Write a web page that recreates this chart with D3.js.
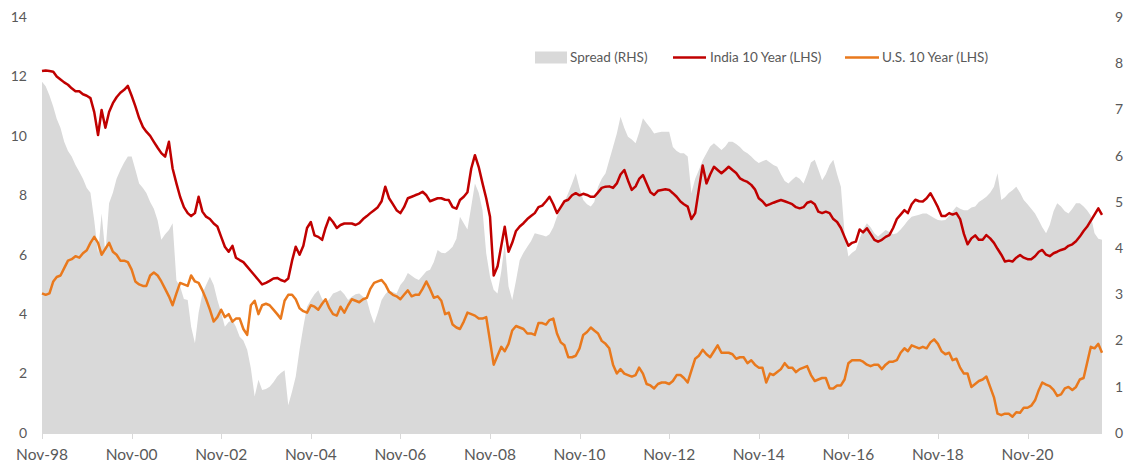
<!DOCTYPE html>
<html>
<head>
<meta charset="utf-8">
<script src="https://cdn.jsdelivr.net/npm/d3@7"></script>
<style>
  html, body { margin: 0; padding: 0; background: #ffffff; }
  svg { display: block; }
  text { font-family: Lato, "Open Sans", sans-serif; fill: #595959; }
</style>
</head>
<body>
<svg id="chart" width="1129" height="463"></svg>
<script>
// ---- Data (monthly, Nov-1998 .. Jul-2022) ----
const startMonth = "1998-11";
const india = [
  12.18, 12.2,
  12.18, 12.16, 12.0, 11.9, 11.8, 11.72, 11.6, 11.5, 11.5, 11.4, 11.35, 11.27,
  10.8, 10.03, 10.87, 10.27, 10.8, 11.1, 11.3, 11.45, 11.55, 11.68, 11.35, 11.0,
  10.6, 10.3, 10.14, 10.0, 9.8, 9.6, 9.42, 9.3, 9.8, 8.9, 8.4, 7.95,
  7.6, 7.4, 7.3, 7.4, 7.95, 7.45, 7.28, 7.2, 7.05, 6.95, 6.6, 6.27,
  6.1, 6.3, 5.9, 5.82, 5.75, 5.6, 5.45, 5.3, 5.15, 5.0, 5.05, 5.12,
  5.2, 5.22, 5.15, 5.1, 5.2, 5.8, 6.27, 6.0, 6.3, 6.9, 7.1, 6.65,
  6.6, 6.5, 6.9, 7.25, 7.1, 6.9, 7.0, 7.05, 7.05, 7.05, 7.0, 7.06,
  7.2, 7.3, 7.4, 7.5, 7.6, 7.8, 8.29, 7.9, 7.7, 7.5, 7.4, 7.6,
  7.9, 7.95, 8.0, 8.05, 8.12, 8.0, 7.8, 7.85, 7.9, 7.9, 7.85, 7.84,
  7.6, 7.55, 7.84, 7.95, 8.1, 8.9, 9.35, 8.95, 8.4, 7.9, 7.28, 5.3,
  5.6, 6.3, 6.94, 6.1, 6.4, 6.8, 6.95, 7.06, 7.2, 7.3, 7.4, 7.6,
  7.65, 7.8, 7.95, 7.7, 7.4, 7.6, 7.8, 7.85, 8.0, 8.07, 8.0, 8.05,
  8.01, 7.95, 7.95, 8.1, 8.25, 8.29, 8.3, 8.25, 8.4, 8.7, 8.85, 8.5,
  8.18, 8.3, 8.55, 8.68, 8.4, 8.1, 8.01, 8.15, 8.18, 8.2, 8.18, 8.07,
  7.95, 7.79, 7.7, 7.62, 7.2, 7.4, 8.2, 9.0, 8.4, 8.7, 8.96, 8.85,
  8.74, 8.85, 8.96, 8.85, 8.75, 8.57, 8.5, 8.45, 8.35, 8.2, 7.9, 7.8,
  7.65, 7.7, 7.75, 7.8, 7.84, 7.8, 7.75, 7.7, 7.6, 7.56, 7.6, 7.75,
  7.79, 7.7, 7.45, 7.4, 7.45, 7.4, 7.2, 7.1, 6.9, 6.6, 6.3, 6.4,
  6.44, 6.85, 6.75, 6.89, 6.7, 6.5, 6.44, 6.5, 6.6, 6.66, 6.9, 7.2,
  7.35, 7.5, 7.4, 7.7, 7.85, 7.8, 7.79, 7.9, 8.07, 7.85, 7.6, 7.3,
  7.3, 7.4, 7.35, 7.4, 7.2, 6.7, 6.35, 6.55, 6.65, 6.5, 6.5, 6.66,
  6.55, 6.4, 6.2, 6.0, 5.77, 5.8, 5.77, 5.9, 5.99, 5.9, 5.85, 5.85,
  5.95, 6.1, 6.16, 6.0, 5.95, 6.05, 6.1, 6.16, 6.2, 6.3, 6.35, 6.45,
  6.61, 6.8, 6.94, 7.15, 7.35, 7.56, 7.34
];
const us = [
  4.7, 4.65,
  4.7, 5.1, 5.25, 5.3, 5.55, 5.8, 5.85, 5.95, 5.9, 6.05, 6.15, 6.4,
  6.6, 6.4, 6.0, 6.2, 6.4, 6.1, 6.0, 5.8, 5.8, 5.75, 5.5, 5.1,
  5.0, 4.95, 4.95, 5.3, 5.4, 5.3, 5.1, 4.85, 4.6, 4.3, 4.7, 5.05,
  5.0, 4.95, 5.3, 5.1, 5.05, 4.8, 4.5, 4.15, 3.75, 3.9, 4.15, 3.9,
  4.0, 3.75, 3.85, 3.85, 3.5, 3.3, 4.3, 4.45, 4.0, 4.3, 4.35, 4.3,
  4.15, 4.0, 3.85, 4.45, 4.65, 4.65, 4.5, 4.2, 4.1, 4.05, 4.3, 4.25,
  4.15, 4.35, 4.5, 4.2, 4.0, 3.95, 4.25, 4.05, 4.3, 4.5, 4.45, 4.4,
  4.5, 4.55, 4.85, 5.05, 5.1, 5.15, 5.0, 4.75, 4.65, 4.6, 4.5, 4.65,
  4.8, 4.6, 4.65, 4.65, 4.85, 5.1, 4.85, 4.55, 4.6, 4.45, 4.0, 4.05,
  3.65, 3.55, 3.5, 3.75, 4.05, 4.0, 3.95, 3.85, 3.85, 3.9, 3.1, 2.3,
  2.6, 2.9, 2.75, 3.0, 3.45, 3.6, 3.55, 3.5, 3.35, 3.35, 3.3, 3.7,
  3.7, 3.65, 3.8, 3.85, 3.35, 3.05, 2.95, 2.55, 2.55, 2.6, 2.85, 3.3,
  3.4, 3.55, 3.45, 3.35, 3.1, 3.0, 2.85, 2.3, 2.0, 2.15, 2.0, 1.95,
  1.9, 1.95, 2.2, 2.0, 1.65, 1.6, 1.5, 1.65, 1.7, 1.7, 1.65, 1.75,
  1.95, 1.95, 1.85, 1.7, 2.1, 2.5, 2.6, 2.8, 2.65, 2.55, 2.75, 2.95,
  2.7, 2.7, 2.7, 2.65, 2.5, 2.55, 2.55, 2.35, 2.45, 2.3, 2.2, 2.2,
  1.7, 2.0, 1.95, 2.05, 2.15, 2.35, 2.2, 2.2, 2.05, 2.15, 2.2, 2.25,
  1.95, 1.75, 1.8, 1.85, 1.85, 1.5, 1.5, 1.6, 1.6, 1.8, 2.35, 2.45,
  2.45, 2.45, 2.4, 2.3, 2.25, 2.3, 2.3, 2.15, 2.3, 2.4, 2.4, 2.45,
  2.7, 2.85, 2.75, 2.95, 2.9, 2.85, 2.9, 2.85, 3.05, 3.15, 3.0, 2.75,
  2.65, 2.7, 2.45, 2.5, 2.2, 2.0, 2.0, 1.55, 1.65, 1.75, 1.8, 1.9,
  1.55, 1.2, 0.65, 0.6, 0.65, 0.65, 0.55, 0.7, 0.68, 0.85, 0.85, 0.92,
  1.1, 1.45, 1.7, 1.63, 1.58, 1.45, 1.25, 1.3, 1.5, 1.55, 1.45, 1.55,
  1.8, 1.85, 2.35, 2.9, 2.85, 3.0, 2.7
];
const spread = [
  7.6, 7.5,
  7.3, 7.06, 6.8, 6.6, 6.3, 6.1, 5.98, 5.8, 5.65, 5.5, 5.3, 5.2,
  4.6, 3.89, 4.75, 3.89, 4.97, 5.2, 5.5, 5.69, 5.85, 5.98, 5.98, 5.7,
  5.4, 5.3, 5.19, 5.0, 4.85, 4.6, 4.18, 4.3, 4.39, 4.54, 3.3, 3.17,
  2.9, 2.88, 2.3, 1.94, 2.6, 3.02, 3.2, 3.38, 3.2, 2.88, 2.6, 2.3,
  2.4, 2.44, 2.3, 2.08, 2.0, 1.8, 1.4, 0.79, 1.15, 0.93, 0.95, 1.0,
  1.1, 1.22, 1.3, 1.36, 0.6, 0.9, 1.22, 1.8, 2.3, 2.73, 2.88, 3.0,
  3.09, 2.9, 2.8, 2.9, 3.02, 3.05, 3.09, 3.0, 2.88, 2.95, 3.0, 3.02,
  2.95, 2.88, 2.6, 2.37, 2.6, 2.88, 3.0, 3.09, 3.05, 3.02, 3.2, 3.3,
  3.46, 3.4, 3.35, 3.31, 3.4, 3.5, 3.53, 3.7, 3.96, 3.9, 3.89, 3.95,
  4.03, 4.2, 4.68, 4.54, 4.4, 4.9, 5.4, 5.2, 4.82, 3.89, 3.38, 3.1,
  3.02, 3.5, 4.1, 3.17, 2.88, 3.3, 3.74, 3.9, 4.03, 4.15, 4.32, 4.3,
  4.28, 4.25, 4.3, 4.45, 4.68, 4.85, 5.0, 5.19, 5.4, 5.62, 5.3, 5.04,
  4.95, 4.9, 5.0, 5.33, 5.5, 5.62, 5.9, 6.19, 6.48, 6.84, 6.6, 6.41,
  6.35, 6.27, 6.5, 6.81, 6.7, 6.6, 6.48, 6.5, 6.52, 6.52, 6.52, 6.19,
  6.1, 6.05, 6.05, 5.98, 5.19, 5.5, 5.69, 5.9, 6.05, 6.2, 6.27, 6.2,
  6.12, 6.2, 6.3, 6.3, 6.25, 6.19, 6.1, 6.05, 5.98, 5.9, 5.84, 5.88,
  5.91, 5.85, 5.8, 5.76, 5.6, 5.45, 5.4, 5.48, 5.55, 5.5, 5.4, 5.6,
  5.85, 5.91, 5.7, 5.47, 5.6, 5.8, 5.91, 5.6, 5.33, 4.32, 3.82, 3.9,
  3.96, 4.2, 4.4, 4.54, 4.45, 4.32, 4.25, 4.32, 4.39, 4.35, 4.3, 4.32,
  4.4, 4.5, 4.6, 4.68, 4.7, 4.72, 4.75, 4.75, 4.7, 4.65, 4.61, 4.6,
  4.61, 4.7, 4.8, 4.9, 4.85, 4.82, 4.82, 4.88, 4.9, 5.0, 5.05, 5.11,
  5.2, 5.33, 5.62, 5.04, 5.1, 5.19, 5.25, 5.33, 5.2, 5.04, 4.95, 4.85,
  4.75, 4.6, 4.45, 4.32, 4.5, 4.8, 4.97, 4.9, 4.8, 4.75, 4.85, 4.97,
  4.97, 4.9, 4.82, 4.7, 4.32, 4.2, 4.18
];
const leftTicks = [0, 2, 4, 6, 8, 10, 12, 14];
const rightTicks = [0, 1, 2, 3, 4, 5, 6, 7, 8, 9];
const xTickLabels = ["Nov-98","Nov-00","Nov-02","Nov-04","Nov-06","Nov-08","Nov-10","Nov-12","Nov-14","Nov-16","Nov-18","Nov-20"];
const seriesNames = ["Spread (RHS)", "India 10 Year (LHS)", "U.S. 10 Year (LHS)"];
const colors = { spread: "#d9d9d9", india: "#c00000", us: "#e9791d" };

// ---- Build ----
const parseMonth = d3.timeParse("%Y-%m");
const parseLabel = d3.timeParse("%b-%y");
const t0 = parseMonth(startMonth);
const dates = india.map((_, i) => d3.timeMonth.offset(t0, i));
const data = dates.map((d, i) => ({ date: d, india: india[i], us: us[i], spread: spread[i] }));

const svg = d3.select("#chart");
const x = d3.scaleTime().domain([dates[0], dates[dates.length - 1]]).range([42, 1102]);
const yL = d3.scaleLinear().domain([0, 14]).range([433, 17]);
const yR = d3.scaleLinear().domain([0, 9]).range([433, 17]);

// spread area
svg.append("path")
  .datum(data)
  .attr("fill", colors.spread)
  .attr("d", d3.area().x(d => x(d.date)).y0(yR(0)).y1(d => yR(d.spread)));

// bottom axis line + ticks
const xTickDates = xTickLabels.map(s => parseLabel(s));
svg.append("line")
  .attr("x1", x(dates[0])).attr("x2", x(dates[dates.length - 1]))
  .attr("y1", yL(0) + 0.5).attr("y2", yL(0) + 0.5)
  .attr("stroke", "#d9d9d9").attr("stroke-width", 1);
svg.append("g").selectAll("line").data(xTickDates).join("line")
  .attr("x1", d => Math.round(x(d)) + 0.5).attr("x2", d => Math.round(x(d)) + 0.5)
  .attr("y1", yL(0)).attr("y2", yL(0) + 6)
  .attr("stroke", "#d9d9d9").attr("stroke-width", 1);
svg.append("g").selectAll("text").data(xTickLabels).join("text")
  .attr("x", (d, i) => x(xTickDates[i]))
  .attr("y", 455)
  .attr("dy", "0.35em")
  .attr("text-anchor", "middle")
  .attr("font-size", "15.5px")
  .text(d => d);

// lines
const lineGen = key => d3.line().x(d => x(d.date)).y(d => yL(d[key]));
svg.append("path").datum(data)
  .attr("fill", "none").attr("stroke", colors.us).attr("stroke-width", 2.5)
  .attr("stroke-linejoin", "round")
  .attr("d", lineGen("us"));
svg.append("path").datum(data)
  .attr("fill", "none").attr("stroke", colors.india).attr("stroke-width", 2.5)
  .attr("stroke-linejoin", "round")
  .attr("d", lineGen("india"));

// left axis labels
svg.append("g").selectAll("text").data(leftTicks).join("text")
  .attr("x", 27).attr("y", d => yL(d)).attr("dy", "0.35em")
  .attr("text-anchor", "end").attr("font-size", "14px")
  .text(d => d);

// right axis labels
svg.append("g").selectAll("text").data(rightTicks).join("text")
  .attr("x", 1115).attr("y", d => yR(d)).attr("dy", "0.35em")
  .attr("text-anchor", "start").attr("font-size", "14px")
  .text(d => d);

// legend
const lg = svg.append("g").attr("font-size", "13.5px");
const ly = 57.5;
lg.append("rect").attr("x", 535).attr("y", ly - 6).attr("width", 32).attr("height", 12).attr("fill", colors.spread);
lg.append("text").attr("x", 570).attr("y", ly).attr("dy", "0.35em").text(seriesNames[0]);
lg.append("line").attr("x1", 673).attr("x2", 706).attr("y1", ly).attr("y2", ly)
  .attr("stroke", colors.india).attr("stroke-width", 2.5);
lg.append("text").attr("x", 710).attr("y", ly).attr("dy", "0.35em").text(seriesNames[1]);
lg.append("line").attr("x1", 845).attr("x2", 879).attr("y1", ly).attr("y2", ly)
  .attr("stroke", colors.us).attr("stroke-width", 2.5);
lg.append("text").attr("x", 882).attr("y", ly).attr("dy", "0.35em").text(seriesNames[2]);
</script>
</body>
</html>
